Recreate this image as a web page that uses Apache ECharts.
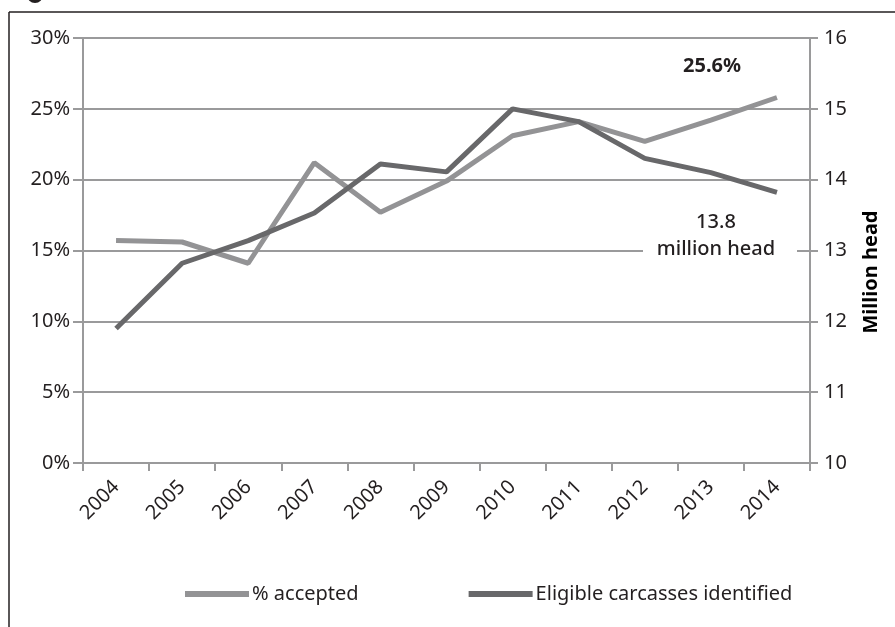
<!DOCTYPE html>
<html>
<head>
<meta charset="utf-8">
<script src="https://cdn.jsdelivr.net/npm/echarts@6/dist/echarts.min.js"></script>
<style>
html,body{margin:0;padding:0;background:#fff;}
#chart{width:895px;height:627px;}
</style>
</head>
<body>
<div id="chart"></div>
<script>
const years = ['2004','2005','2006','2007','2008','2009','2010','2011','2012','2013','2014'];
const pctAccepted = [15.7, 15.6, 14.1, 21.2, 17.7, 19.9, 23.1, 24.1, 22.7, 24.2, 25.8];
const carcasses = [11.9, 12.82, 13.14, 13.53, 14.22, 14.11, 15.0, 14.82, 14.3, 14.1, 13.82];
const leftTicks = [0, 5, 10, 15, 20, 25, 30];
const rightTicks = [10, 11, 12, 13, 14, 15, 16];
const seriesNames = ['% accepted', 'Eligible carcasses identified'];
const annotPct = '25.6%';
const annotHead = ['13.8', 'million head'];
const rightAxisTitle = 'Million head';

const FONT = '"Noto Sans", "Open Sans", sans-serif';
const TXT = '#231f20';
const GRID = '#9a9a9b';
const LIGHT = '#939395';
const DARK = '#68686a';

const chart = echarts.init(document.getElementById('chart'));
chart.setOption({
  animation: false,
  backgroundColor: '#fff',
  textStyle: { fontFamily: FONT, color: TXT },
  grid: { left: 83, right: 85, top: 38, bottom: 164 },
  legend: {
    left: 180, top: 579,
    itemWidth: 64, itemHeight: 6, itemGap: 110,
    icon: 'rect',
    textStyle: { fontFamily: FONT, fontSize: 20, color: TXT, padding: [0, 0, 0, -2] },
    data: seriesNames
  },
  xAxis: {
    type: 'category',
    data: years,
    boundaryGap: true,
    axisLine: { lineStyle: { color: GRID, width: 2 } },
    axisTick: { show: true, length: 8, lineStyle: { color: GRID, width: 2 } },
    axisLabel: { rotate: 45, fontSize: 20, color: TXT, fontFamily: FONT, margin: 21 }
  },
  yAxis: [
    {
      type: 'value', min: 0, max: 30, interval: 5,
      axisLine: { show: true, lineStyle: { color: GRID, width: 2 } },
      axisTick: { show: true, length: 10, lineStyle: { color: GRID, width: 2 } },
      axisLabel: { fontSize: 20, color: TXT, fontFamily: FONT, margin: 13,
        formatter: v => leftTicks.includes(v) ? v + '%' : '' },
      splitLine: { show: true, lineStyle: { color: GRID, width: 2 } }
    },
    {
      type: 'value', min: 10, max: 16, interval: 1,
      axisLine: { show: true, lineStyle: { color: GRID, width: 2 } },
      axisTick: { show: true, length: 8, lineStyle: { color: GRID, width: 2 } },
      axisLabel: { fontSize: 20, color: TXT, fontFamily: FONT, margin: 14,
        formatter: v => rightTicks.includes(v) ? String(v) : '' },
      splitLine: { show: false }
    }
  ],
  series: [
    {
      name: seriesNames[0], type: 'line', yAxisIndex: 0,
      data: pctAccepted, symbol: 'none',
      lineStyle: { color: LIGHT, width: 5 }, itemStyle: { color: LIGHT },
      z: 3
    },
    {
      name: seriesNames[1], type: 'line', yAxisIndex: 1,
      data: carcasses, symbol: 'none',
      lineStyle: { color: DARK, width: 5 }, itemStyle: { color: DARK },
      z: 4
    }
  ],
  graphic: [
    { type: 'line', shape: { x1: 9, y1: 12, x2: 895, y2: 12 }, style: { stroke: '#231f20', lineWidth: 1.5 }, silent: true },
    { type: 'line', shape: { x1: 9, y1: 12, x2: 9, y2: 627 }, style: { stroke: '#231f20', lineWidth: 1.5 }, silent: true },
    { type: 'circle', shape: { cx: 35, cy: -5, r: 8 }, style: { fill: '#231f20' }, silent: true },
    { type: 'text', x: 712, y: 66, z: 10,
      style: { text: annotPct, font: 'bold 20px ' + FONT, fill: TXT, align: 'center', verticalAlign: 'middle' } },
    { type: 'rect', shape: { x: 643, y: 240, width: 154, height: 20 }, style: { fill: '#fff' }, z: 50 },
    { type: 'text', x: 716, y: 222, z: 60,
      style: { text: annotHead[0], font: '500 20px ' + FONT, fill: TXT, align: 'center', verticalAlign: 'middle' } },
    { type: 'text', x: 716, y: 249, z: 60,
      style: { text: annotHead[1], font: '500 20px ' + FONT, fill: TXT, align: 'center', verticalAlign: 'middle' } },
    { type: 'text', z: 10, x: 871, y: 272, rotation: Math.PI / 2,
      style: { text: rightAxisTitle, font: 'bold 20px ' + FONT, fill: '#000', align: 'center', verticalAlign: 'middle' } }
  ]
});
</script>
</body>
</html>
